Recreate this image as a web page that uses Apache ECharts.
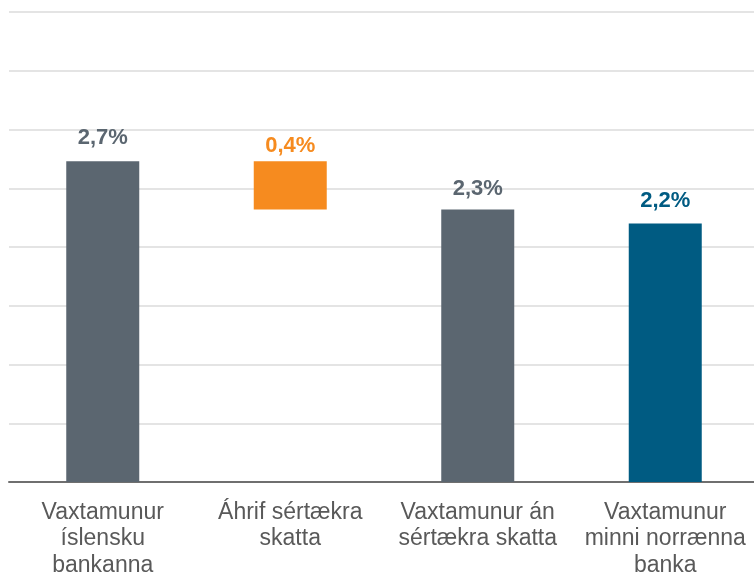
<!DOCTYPE html>
<html>
<head>
<meta charset="utf-8">
<script src="https://cdn.jsdelivr.net/npm/echarts@6/dist/echarts.min.js"></script>
<style>
    html, body { margin: 0; padding: 0; background: #FFFFFF; }
    #chart { width: 754px; height: 576px; }
</style>
</head>
<body>
<div id="chart"></div>
<script>
    // flokkar (x-ás)
    const categories = [
        'Vaxtamunur\níslensku\nbankanna',
        'Áhrif sértækra\nskatta',
        'Vaxtamunur án\nsértækra skatta',
        'Vaxtamunur\nminni norrænna\nbanka'
    ];
    // ósýnilegur grunnur fyrir fossarit
    const baseValues = [0, 2.32, 0, 0];
    // sýnileg gildi (%)
    const barValues = [2.73, 0.41, 2.32, 2.2];
    const barColors = ['#5B6670', '#F68B1F', '#5B6670', '#005B82'];
    const labelDistance = [12, 4, 9, 12];

    const chart = echarts.init(document.getElementById('chart'));

    const fmt = v => v.toFixed(1).replace('.', ',') + '%';

    chart.setOption({
        backgroundColor: '#FFFFFF',
        animation: false,
        textStyle: { fontFamily: '"Liberation Sans", Arial, sans-serif' },
        grid: {
            left: 9,
            right: -5,
            top: 12,
            bottom: 94,
            outerBoundsMode: 'none',
            containLabel: false
        },
        xAxis: {
            type: 'category',
            data: categories,
            axisLine: {
                lineStyle: { color: '#6F6F6F', width: 2 }
            },
            axisTick: { show: false },
            axisLabel: {
                color: '#595959',
                fontSize: 23,
                lineHeight: 26.5,
                margin: 17,
                interval: 0
            }
        },
        yAxis: {
            type: 'value',
            min: 0,
            max: 4,
            interval: 0.5,
            axisLabel: { show: false },
            axisLine: { show: false },
            axisTick: { show: false },
            splitLine: {
                lineStyle: { color: '#E4E4E4', width: 2 }
            }
        },
        series: [
            {
                name: 'grunnur',
                type: 'bar',
                stack: 'total',
                barWidth: 73,
                silent: true,
                itemStyle: { color: 'transparent' },
                data: baseValues
            },
            {
                name: 'vaxtamunur',
                type: 'bar',
                stack: 'total',
                barWidth: 73,
                data: barValues.map((v, i) => ({
                    value: v,
                    itemStyle: { color: barColors[i] },
                    label: {
                        show: true,
                        position: 'top',
                        distance: labelDistance[i],
                        color: barColors[i],
                        fontSize: 22,
                        fontWeight: 'bold',
                        formatter: p => fmt(p.value)
                    }
                }))
            }
        ]
    });
</script>
</body>
</html>
